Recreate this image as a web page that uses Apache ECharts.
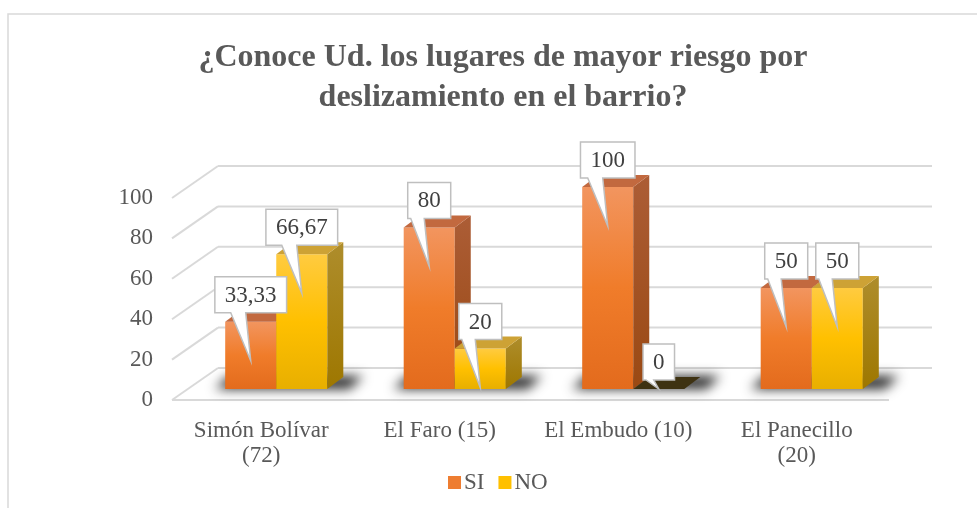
<!DOCTYPE html>
<html lang="es">
<head>
    <meta charset="UTF-8">
    <title>Lugares de mayor riesgo</title>
    <style>
        html, body { margin: 0; padding: 0; background: #fff; }
        #chart { width: 977px; height: 508px; }
    </style>
</head>
<body>
    <div id="chart"></div>
    <script src="https://cdn.jsdelivr.net/npm/echarts@6/dist/echarts.min.js"></script>
    <script>
        // datos
        var categories = ['Simón Bolívar (72)', 'El Faro (15)', 'El Embudo (10)', 'El Panecillo (20)'];
        var siValues = [33.33, 80, 100, 50];
        var noValues = [66.67, 20, 0, 50];
        var yTicks = [0, 20, 40, 60, 80, 100];

        var FONT = '"Liberation Serif", "Times New Roman", serif';
        var BAR_OFF = [15, -11];    // cara frontal de las barras respecto al plano frontal
        var BAR_DEPTH = [16, -12];  // profundidad de la barra
        var WALL_OFF = [46, -32];   // pared del fondo
        var BAR_RATIO = 0.286;

        var chart = echarts.init(document.getElementById('chart'));

        var measureCtx = document.createElement('canvas').getContext('2d');
        measureCtx.font = '23px ' + FONT;

        function fmt(v) {
            return String(v).replace('.', ',');
        }

        // las etiquetas largas pasan el "(n)" a la segunda linea
        function wrapCat(name) {
            return measureCtx.measureText(name).width > 151 ? name.replace(' (', '\n(') : name;
        }

        function lg(stops) {
            return new echarts.graphic.LinearGradient(0, 0, 0, 1, stops.map(function (c, i) {
                return { offset: i / (stops.length - 1), color: c };
            }));
        }

        var palette = [
            { front: ['#F2955F', '#F07C2A', '#E36B1D'], side: ['#AC5D36', '#9A4913'], top: '#C2693F' },
            { front: ['#FFCB40', '#FFC000', '#E8AF00'], side: ['#AE8D2C', '#9E7700'], top: '#CDA235' }
        ];

        // geometria de una barra (slot 0 = SI a la izquierda, 1 = NO)
        function barGeom(api, ci, v, slot) {
            var base = api.coord([ci, 0]);
            var topP = api.coord([ci, v]);
            var w = api.size([1, 0])[0] * BAR_RATIO;
            var x0 = base[0] + BAR_OFF[0] + (slot === 0 ? -w : 0);
            return { x0: x0, x1: x0 + w, yb: base[1] + BAR_OFF[1], yt: topP[1] + BAR_OFF[1], w: w };
        }

        function makeBarRender(slot) {
            return function (params, api) {
                var ci = api.value(0), v = api.value(1);
                var g = barGeom(api, ci, v, slot);
                var dx = BAR_DEPTH[0], dy = BAR_DEPTH[1];
                var pal = palette[slot];
                var children = [];
                if (v > 0) {
                    children.push({
                        type: 'rect',
                        shape: { x: g.x0, y: g.yt, width: g.w, height: g.yb - g.yt },
                        style: { fill: lg(pal.front) }
                    });
                    children.push({
                        type: 'polygon',
                        shape: { points: [[g.x1, g.yt], [g.x1 + dx, g.yt + dy], [g.x1 + dx, g.yb + dy], [g.x1, g.yb]] },
                        style: { fill: lg(pal.side) }
                    });
                }
                children.push({
                    type: 'polygon',
                    shape: { points: [[g.x0, g.yt], [g.x1, g.yt], [g.x1 + dx, g.yt + dy], [g.x0 + dx, g.yt + dy]] },
                    style: { fill: v > 0 ? pal.top : '#3E3212' }
                });
                return { type: 'group', children: children };
            };
        }

        function renderShadow(params, api) {
            var ci = api.value(0);
            var a = barGeom(api, ci, 0, 0);
            var b = barGeom(api, ci, 0, 1);
            var L = a.x0, R = b.x1 + BAR_DEPTH[0], B = a.yb;
            var shift = 3000;
            return {
                type: 'polygon',
                shape: { points: [[L - 10 - shift, B], [R + 6 - shift, B], [R + 20 - shift, B - 13], [L + 4 - shift, B - 13]] },
                style: {
                    fill: '#000',
                    shadowColor: 'rgba(0,0,0,0.85)',
                    shadowBlur: 12,
                    shadowOffsetX: shift
                }
            };
        }

        function renderGrid(params, api) {
            var v = api.value(0);
            var band = api.size([1, 0])[0];
            var left = api.coord([0, v])[0] - band / 2;
            var right = api.coord([categories.length - 1, v])[0] + band / 2;
            var y = api.coord([0, v])[1];
            var st = { stroke: '#D9D9D9', lineWidth: 2 };
            var children = [
                { type: 'line', shape: { x1: left, y1: y, x2: left + WALL_OFF[0], y2: y + WALL_OFF[1] }, style: st },
                { type: 'line', shape: { x1: left + WALL_OFF[0], y1: y + WALL_OFF[1], x2: right + WALL_OFF[0], y2: y + WALL_OFF[1] }, style: st }
            ];
            if (v === 0) {
                children.push({ type: 'line', shape: { x1: left, y1: y, x2: right + 3, y2: y }, style: st });
            }
            return { type: 'group', children: children, silent: true };
        }

        function renderCallout(params, api) {
            var ci = api.value(0), v = api.value(1), slot = api.value(2);
            var g = barGeom(api, ci, v, slot);
            var cx = (g.x0 + g.x1) / 2;
            var txt = fmt(v);
            var tw = measureCtx.measureText(txt).width;
            var L = cx - (tw + 20) / 2, R = cx + (tw + 20) / 2;
            var B = g.yt - 9, T = B - 36;
            var tip = [cx, Math.min(g.yt + 39, g.yb)];
            var b1 = Math.max(L + 3, cx - 20), b2 = cx - 5;
            return {
                type: 'group',
                children: [{
                    type: 'polygon',
                    shape: { points: [[L, T], [R, T], [R, B], [b2, B], tip, [b1, B], [L, B]] },
                    style: { fill: '#FFFFFF', stroke: '#BFBFBF', lineWidth: 1.5 }
                }, {
                    type: 'text',
                    style: {
                        text: txt, x: cx, y: (T + B) / 2 + 1,
                        align: 'center', verticalAlign: 'middle',
                        font: '23px ' + FONT, fill: '#404040'
                    }
                }]
            };
        }

        var siData = siValues.map(function (v, i) { return [i, v]; });
        var noData = noValues.map(function (v, i) { return [i, v]; });
        var labelData = siValues.map(function (v, i) { return [i, v, 0]; })
            .concat(noValues.map(function (v, i) { return [i, v, 1]; }));

        var option = {
            backgroundColor: '#FFFFFF',
            textStyle: { fontFamily: FONT },
            animation: false,
            title: {
                text: '¿Conoce Ud. los lugares de mayor riesgo por\ndeslizamiento en el barrio?',
                left: 498,
                textAlign: 'center',
                top: 33,
                textStyle: {
                    fontFamily: FONT,
                    fontSize: 32,
                    fontWeight: 'bold',
                    color: '#595959',
                    lineHeight: 40
                }
            },
            graphic: [{
                type: 'rect',
                shape: { x: 8, y: 14, width: 1100, height: 700 },
                style: { fill: 'none', stroke: '#D9D9D9', lineWidth: 1.5 },
                silent: true,
                z: -10
            }],
            legend: {
                data: ['SI', 'NO'],
                left: 443,
                top: 466,
                icon: 'rect',
                itemWidth: 13,
                itemHeight: 13,
                itemGap: 14,
                textStyle: { fontFamily: FONT, fontSize: 23, color: '#595959', padding: [0, 0, 0, -2] }
            },
            grid: {
                left: 172,
                right: 91,
                top: 198,
                bottom: 108
            },
            xAxis: {
                type: 'category',
                data: categories,
                axisLine: { show: false },
                axisTick: { show: false },
                axisLabel: {
                    interval: 0,
                    margin: 18,
                    fontFamily: FONT,
                    fontSize: 23,
                    lineHeight: 25,
                    color: '#595959',
                    formatter: wrapCat
                }
            },
            yAxis: {
                type: 'value',
                min: 0,
                max: 100,
                interval: 20,
                axisLine: { show: false },
                axisTick: { show: false },
                splitLine: { show: false },
                axisLabel: { margin: 19, fontFamily: FONT, fontSize: 23, color: '#595959' }
            },
            series: [
                {
                    name: 'grid',
                    type: 'custom',
                    renderItem: renderGrid,
                    data: yTicks.map(function (t) { return [t]; }),
                    encode: { y: 0 },
                    silent: true,
                    z: 1
                },
                {
                    name: 'sombra',
                    type: 'custom',
                    renderItem: renderShadow,
                    data: categories.map(function (c, i) { return [i, 0]; }),
                    encode: { x: 0, y: 1 },
                    silent: true,
                    z: 2
                },
                {
                    name: 'SI',
                    type: 'custom',
                    renderItem: makeBarRender(0),
                    data: siData,
                    encode: { x: 0, y: 1 },
                    itemStyle: { color: '#EE7D31' },
                    z: 3
                },
                {
                    name: 'NO',
                    type: 'custom',
                    renderItem: makeBarRender(1),
                    data: noData,
                    encode: { x: 0, y: 1 },
                    itemStyle: { color: '#FFC000' },
                    z: 3
                },
                {
                    name: 'etiquetas',
                    type: 'custom',
                    renderItem: renderCallout,
                    data: labelData,
                    encode: { x: 0, y: 1 },
                    silent: true,
                    z: 10
                }
            ]
        };

        chart.setOption(option);
    </script>
</body>
</html>
